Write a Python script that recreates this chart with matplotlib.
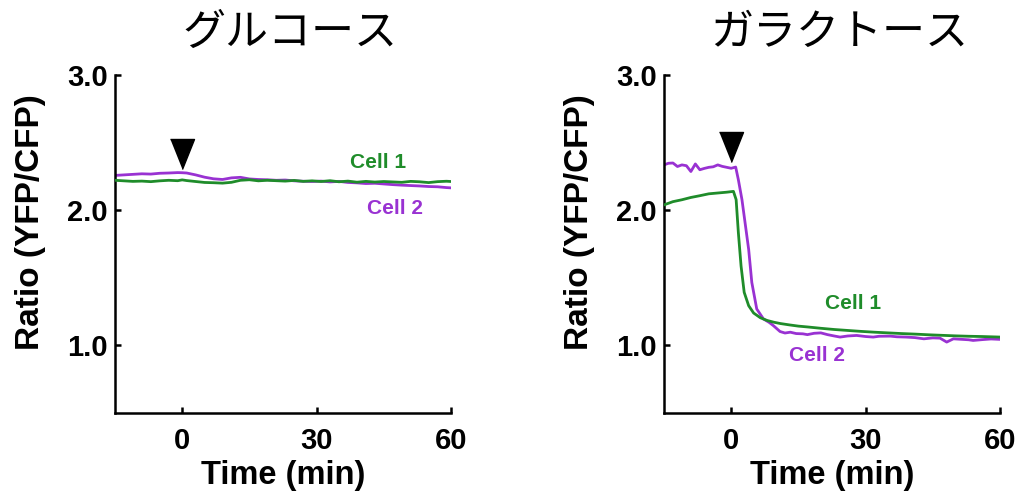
import numpy as np
import matplotlib
matplotlib.use("Agg")
import matplotlib.pyplot as plt

plt.rcParams['font.family'] = ['Liberation Sans', 'Noto Sans CJK JP', 'DejaVu Sans']
plt.rcParams['font.weight'] = 'bold'

GREEN = '#1f8c2a'
PURPLE = '#9932d2'

# グルコース (left)
t_glc = [-15, -13, -11, -9, -7, -5, -3, -1, 0, 1, 3, 5, 7, 9, 11, 13, 15, 17, 19, 21,
         23, 25, 27, 29, 31, 33, 35, 37, 39, 41, 43, 45, 47, 49, 51, 53, 55, 57, 59, 60]
glc_cell1 = [2.222, 2.218, 2.214, 2.216, 2.212, 2.218, 2.222, 2.219, 2.225, 2.220,
             2.213, 2.206, 2.204, 2.201, 2.207, 2.222, 2.226, 2.218, 2.222, 2.219,
             2.216, 2.221, 2.214, 2.218, 2.213, 2.219, 2.211, 2.216, 2.208, 2.214,
             2.209, 2.213, 2.210, 2.207, 2.214, 2.211, 2.205, 2.212, 2.215, 2.213]
glc_cell2 = [2.258, 2.262, 2.266, 2.270, 2.268, 2.274, 2.276, 2.279, 2.278, 2.276,
             2.262, 2.245, 2.233, 2.228, 2.240, 2.244, 2.232, 2.228, 2.226, 2.222,
             2.224, 2.218, 2.215, 2.213, 2.216, 2.210, 2.214, 2.206, 2.203, 2.198,
             2.200, 2.195, 2.190, 2.186, 2.183, 2.180, 2.176, 2.174, 2.168, 2.166]

# ガラクトース (right)
t_gal1 = [-15, -13, -11, -9, -7, -5, -3, -1, 0.5, 1.1, 1.6, 2.2, 2.9, 3.9, 5.0, 6.5, 8,
          9.5, 11, 13, 15, 17, 20, 23, 26, 29, 32, 35, 38, 41, 44, 47, 50, 53, 56, 58, 60]
gal_cell1 = [2.040, 2.064, 2.078, 2.095, 2.108, 2.122, 2.128, 2.134, 2.140, 2.079,
             1.834, 1.588, 1.393, 1.294, 1.240, 1.205, 1.185, 1.172, 1.162, 1.152,
             1.143, 1.137, 1.127, 1.118, 1.111, 1.104, 1.098, 1.093, 1.088, 1.084,
             1.079, 1.075, 1.071, 1.068, 1.066, 1.064, 1.062]
t_gal2 = [-15, -14, -13, -12, -11, -10, -9, -8, -7, -6, -5, -4, -3, -2, -1, 0, 1, 1.6,
          2.4, 3.1, 3.9, 4.6, 5.7, 7.2, 8.5, 9.4, 10.9, 12, 13.2, 14.5, 16, 17, 18.5, 20,
          21.5, 23, 24.3, 26, 28, 30, 31.7, 33, 35.5, 37, 39, 41, 43, 45, 46.6, 48.1,
          49.6, 51, 53, 54, 56, 58, 60]
gal_cell2 = [2.336, 2.348, 2.350, 2.324, 2.336, 2.330, 2.287, 2.343, 2.300, 2.310,
             2.318, 2.322, 2.336, 2.325, 2.318, 2.311, 2.320, 2.226, 2.079, 1.907,
             1.710, 1.466, 1.270, 1.196, 1.170, 1.147, 1.103, 1.092, 1.098, 1.088,
             1.086, 1.080, 1.090, 1.093, 1.080, 1.070, 1.062, 1.070, 1.074, 1.066,
             1.062, 1.068, 1.069, 1.064, 1.062, 1.058, 1.049, 1.056, 1.054, 1.025,
             1.049, 1.046, 1.042, 1.037, 1.043, 1.048, 1.045]

titles = ['グルコース', 'ガラクトース']
arrow_y = [2.42, 2.47]   # centre of the ▼ marker
label_pos = [[(43.8, 2.35), (47.6, 2.01)], [(27.2, 1.31), (19.2, 0.925)]]

fig = plt.figure(figsize=(10.22, 5.01), dpi=100)
ax1 = fig.add_axes([0.1125, 0.1756, 0.3288, 0.6744])
ax2 = fig.add_axes([0.6497, 0.1756, 0.3288, 0.6744])

data = [(ax1, (t_glc, glc_cell1), (t_glc, glc_cell2)),
        (ax2, (t_gal1, gal_cell1), (t_gal2, gal_cell2))]

tri = [(-0.8, 1), (0.8, 1), (0, -1)]

for i, (ax, c1, c2) in enumerate(data):
    ax.plot(c1[0], c1[1], color=GREEN, lw=2.0, zorder=3)
    ax.plot(c2[0], c2[1], color=PURPLE, lw=2.0, zorder=2)
    ax.plot([0], [arrow_y[i]], marker=tri, ms=21.6, color='black', ls='none')
    ax.text(*label_pos[i][0], 'Cell 1', color=GREEN, fontsize=15, fontweight='bold',
            ha='center', va='center')
    ax.text(*label_pos[i][1], 'Cell 2', color=PURPLE, fontsize=15, fontweight='bold',
            ha='center', va='center')

    ax.set_xlim(-15, 60)
    ax.set_ylim(0.5, 3.0)
    ax.set_xticks([0, 30, 60])
    ax.set_yticks([1.0, 2.0, 3.0])
    ax.set_yticklabels(['1.0', '2.0', '3.0'])
    ax.spines['top'].set_visible(False)
    ax.spines['right'].set_visible(False)
    for s in ['left', 'bottom']:
        ax.spines[s].set_linewidth(1.8)
    ax.tick_params(direction='in', length=4.5, width=1.8, labelsize=21)
    ax.tick_params(axis='x', pad=10)
    ax.tick_params(axis='y', pad=5)
    for lab in ax.get_xticklabels() + ax.get_yticklabels():
        lab.set_fontweight('bold')
    ax.set_xlabel('Time (min)', fontsize=23.5, fontweight='bold', labelpad=4)
    ax.set_ylabel('Ratio (YFP/CFP)', fontsize=24, fontweight='bold')
    ax.yaxis.set_label_coords(-0.205, 0.565)
    ax.text(0.52, 1.089, titles[i], transform=ax.transAxes, ha='center', va='baseline',
            fontsize=31, fontweight='normal', family=['Noto Sans CJK JP', 'DejaVu Sans'])

fig.savefig('out.png', dpi=100)
